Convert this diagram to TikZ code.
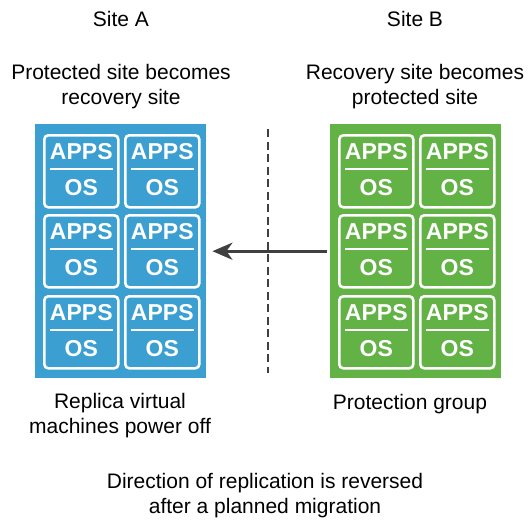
\documentclass[tikz,border=0pt]{standalone}
\usepackage{fontspec}
\setmainfont{Liberation Sans}
\usetikzlibrary{arrows.meta}
\definecolor{siteblue}{HTML}{3B9FD1}
\definecolor{sitegreen}{HTML}{62B246}
\definecolor{arrowgray}{HTML}{404040}
\begin{document}
\begin{tikzpicture}[x=1pt,y=-1pt,
  lbl/.style={font=\fontsize{21}{25}\selectfont, align=center, text=black, inner sep=0pt},
  sitebox/.style={draw=none, minimum width=171pt, minimum height=254pt, inner sep=0pt},
  vmbox/.style={draw=white, line width=2.6pt, rounded corners=4pt, minimum width=74pt, minimum height=72pt, inner sep=0pt},
  vmtxt/.style={font=\fontsize{23}{23}\bfseries\selectfont, text=white, inner sep=0pt}
]
\useasboundingbox (0,0) rectangle (529,520);
% site boxes
\node[sitebox, fill=siteblue, anchor=north west] (blue) at (35,124) {};
\node[sitebox, fill=sitegreen, anchor=north west] (green) at (330,124) {};
% VM boxes
\foreach \bx/\nm in {43/a, 124/b, 338/c, 419/d}{
  \foreach \ty/\r in {134/1, 214/2, 295/3}{
    \node[vmbox, anchor=north west] (vm\nm\r) at (\bx,\ty) {};
    \node[vmtxt] (apps\nm\r) at ([yshift=-18pt]vm\nm\r.north) {APPS};
    \node[vmtxt] (os\nm\r) at ([yshift=-54pt]vm\nm\r.north) {OS};
    \draw[white, line width=2.6pt] ([xshift=7pt,yshift=-35pt]vm\nm\r.north west) coordinate (sl\nm\r) -- ([xshift=-7pt,yshift=-35pt]vm\nm\r.north east) coordinate (sr\nm\r);
  }
}
% dashed divider
\coordinate (dtop) at (268,129);
\coordinate (dbot) at (268,373);
\draw[arrowgray, line width=2.6pt, dash pattern=on 8pt off 4.5pt] (dtop) -- (dbot);
% arrow
\draw[arrowgray, line width=3.2pt, -{Stealth[length=20pt,width=17pt,inset=6pt]}, shorten <=3pt, shorten >=6pt] (green.west) -- (blue.east);
% labels
\node[lbl] (siteA) at (121,19) {Site A};
\node[lbl] (siteB) at (415,19) {Site B};
\node[lbl] (topA) at (121,87) {Protected site becomes\\recovery site};
\node[lbl] (topB) at (415,87) {Recovery site becomes\\protected site};
\node[lbl] (botA) at (120,416) {Replica virtual\\machines power off};
\node[lbl] (botB) at (410,404) {Protection group};
\node[lbl] (bot) at (265,496) {Direction of replication is reversed\\after a planned migration};
\end{tikzpicture}
\end{document}
